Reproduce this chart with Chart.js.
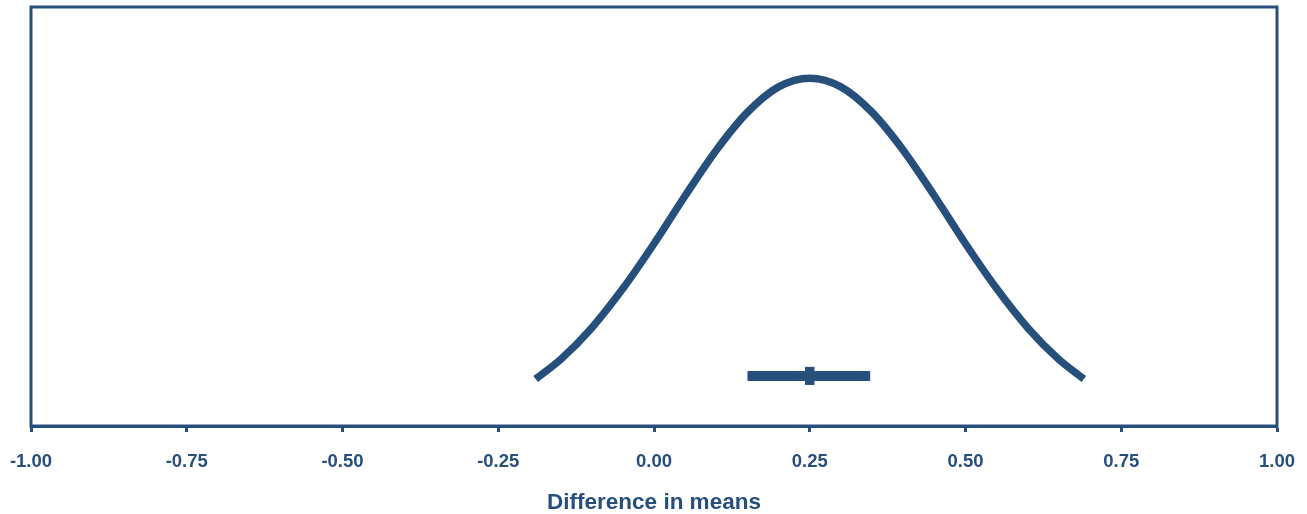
<!DOCTYPE html>
<html>
<head>
<meta charset="utf-8">
<script src="https://cdn.jsdelivr.net/npm/chart.js@4/dist/chart.umd.min.js"></script>
<style>
  html, body { margin: 0; padding: 0; background: #ffffff; }
  #wrap { width: 1307px; height: 514px; }
</style>
</head>
<body>
<div id="wrap"><canvas id="c" width="1307" height="514"></canvas></div>
<script>
// ---- data ----
const tickValues = [-1.00, -0.75, -0.50, -0.25, 0.00, 0.25, 0.50, 0.75, 1.00];
const curveX = [-0.19, -0.15, -0.10, -0.05, 0.00, 0.05, 0.10, 0.15, 0.20, 0.25, 0.30, 0.35, 0.40, 0.45, 0.50, 0.55, 0.60, 0.65, 0.69];
const curveY = [0.135, 0.191, 0.282, 0.395, 0.524, 0.662, 0.793, 0.902, 0.975, 1.000, 0.975, 0.902, 0.793, 0.662, 0.524, 0.395, 0.282, 0.191, 0.135];
const ciX = [0.150, 0.347];
const ciLevel = 0.144;
const meanX = 0.25;
const meanMarkY = [0.118, 0.170];
const axisTitle = 'Difference in means';

const COLOR = '#274f7c';
const FONT = "'Liberation Sans', Arial, Helvetica, sans-serif";

const curveData = curveX.map((x, i) => ({ x: x, y: curveY[i] }));
const ciData = ciX.map(x => ({ x: x, y: ciLevel }));
const markData = meanMarkY.map(y => ({ x: meanX, y: y }));

const framePlugin = {
  id: 'frame',
  afterDraw(chart) {
    const a = chart.chartArea, ctx = chart.ctx;
    ctx.save();
    ctx.strokeStyle = COLOR;
    ctx.lineWidth = 3;
    ctx.strokeRect(a.left, a.top, a.right - a.left, a.bottom - a.top);
    ctx.restore();
  }
};

new Chart(document.getElementById('c'), {
  type: 'scatter',
  data: {
    datasets: [
      { data: curveData, showLine: true, borderColor: COLOR, borderWidth: 7.5, pointRadius: 0, tension: 0.4, cubicInterpolationMode: 'monotone', borderCapStyle: 'butt' },
      { data: ciData, showLine: true, borderColor: COLOR, borderWidth: 10, pointRadius: 0, borderCapStyle: 'butt' },
      { data: markData, showLine: true, borderColor: COLOR, borderWidth: 9.5, pointRadius: 0, borderCapStyle: 'butt' }
    ]
  },
  options: {
    responsive: false,
    animation: false,
    layout: { padding: { left: 31, right: 30, top: 7, bottom: 0 } },
    plugins: { legend: { display: false }, tooltip: { enabled: false } },
    scales: {
      x: {
        type: 'linear', min: -1, max: 1,
        afterBuildTicks: (axis) => { axis.ticks = tickValues.map(v => ({ value: v })); },
        afterFit: (axis) => { axis.paddingLeft = 0; axis.paddingRight = 0; },
        ticks: {
          color: COLOR, padding: 21, maxRotation: 0, autoSkip: false,
          font: { family: FONT, size: 18.5, weight: 'bold', lineHeight: 1 },
          callback: (v) => Number(v).toFixed(2)
        },
        grid: { drawOnChartArea: false, drawTicks: true, tickLength: 6, tickWidth: 3, tickColor: COLOR },
        border: { display: true, color: COLOR, width: 3 },
        title: { display: true, text: axisTitle, color: COLOR, font: { family: FONT, size: 22.5, weight: 'bold', lineHeight: 1 }, padding: { top: -1, bottom: 0 } }
      },
      y: { display: false, min: 0, max: 1.2046 }
    }
  },
  plugins: [framePlugin]
});
</script>
</body>
</html>
